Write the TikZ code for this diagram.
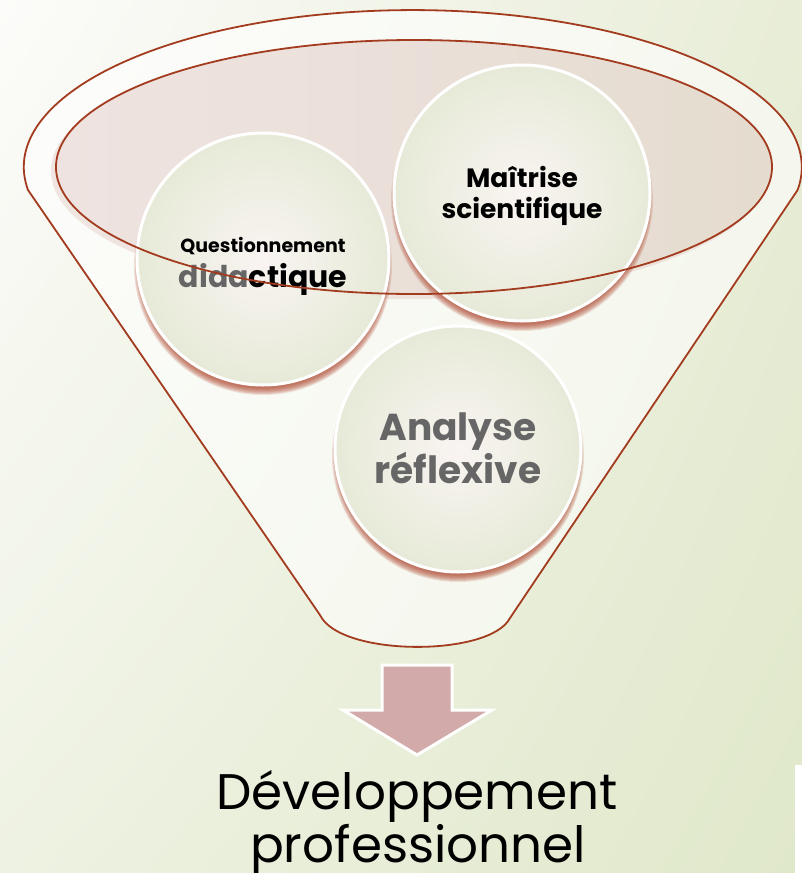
\documentclass[tikz,border=0pt]{standalone}
\usepackage{fontspec}
\setmainfont{Poppins}
\usetikzlibrary{shadings}
\definecolor{rust}{HTML}{A33B1F}
\definecolor{bgtl}{HTML}{FCFCFA}
\definecolor{bgtr}{HTML}{E8EDD7}
\definecolor{bgbl}{HTML}{EEF2E2}
\definecolor{bgbr}{HTML}{E0E8CA}
\definecolor{ellL}{HTML}{EFE3E1}
\definecolor{ellR}{HTML}{E5DCCF}
\definecolor{ellsh}{HTML}{E2C9C4}
\definecolor{cin}{HTML}{F9F4F2}
\definecolor{cout}{HTML}{E7EAD8}
\definecolor{csh}{HTML}{B04A33}
\definecolor{arrowc}{HTML}{D1AAA9}
\definecolor{greytext}{HTML}{666666}
\tikzset{
  bubble/.style={circle, draw=white, line width=3pt, inner sep=0pt,
    minimum size=#1, inner color=cin, outer color=cout, align=center},
  outline/.style={draw=rust, line width=1.8pt},
  labelfont/.style={font=\bfseries\fontsize{#1}{#1}\selectfont},
  resultfont/.style={font=\fontsize{50}{50}\selectfont}
}
\begin{document}
\begin{tikzpicture}[x=1pt,y=-1pt]
\useasboundingbox (0,0) rectangle (802,873);
% background
\shade[upper left=bgtl, upper right=bgtr, lower left=bgbl, lower right=bgbr] (0,0) rectangle (802,873);
\fill[white] (795,765) rectangle (802,873);
% funnel
\path[fill=white, fill opacity=0.6, outline]
  (28,190) arc[start angle=171.6, end angle=368.4, x radius=389, y radius=157]
  -- (510,618) .. controls (490,657) and (340,657) .. (320,615) -- cycle;
% inner ellipse shadow and fill
\fill[ellsh, opacity=0.45] (410,171) ellipse[x radius=359, y radius=128];
\shade[left color=ellL, right color=ellR] (414,167) ellipse[x radius=358, y radius=127];
% circle shadows
\foreach \cx/\cy/\r in {263/259/126, 522/193/128, 458/449/123}{
  \foreach \k in {0,...,8}{
    \fill[csh, opacity=0.16] (\cx,\cy+7) circle[radius=\r+3-\k];
  }
}
% bubbles
\node[bubble=252pt] (q) at (263,259) {};
\node[labelfont=19, anchor=base] (qt1) at (263,252) {Questionnement};
\node[labelfont=30, anchor=base] (qt2) at (263,287) {{\color{greytext}dida}ctique};
\node[bubble=256pt] (m) at (522,193) {};
\node[labelfont=26.5, anchor=base] (mt1) at (522,187) {Maîtrise};
\node[labelfont=26.5, anchor=base] (mt2) at (522,218) {scientifique};
\node[bubble=246pt] (a) at (458,449) {};
\node[labelfont=37.5, anchor=base, text=greytext] (at1) at (458,440) {Analyse};
\node[labelfont=37.5, anchor=base, text=greytext] (at2) at (458,483) {réflexive};
% inner ellipse outline on top
\draw[outline] (414,167) ellipse[x radius=358, y radius=127];
% arrow
\filldraw[fill=arrowc, draw=white, line width=3pt, line join=miter]
  (382,665) -- (452,665) -- (452,710) -- (492,710) -- (417,755)
  -- (343,710) -- (382,710) -- cycle;
% result text
\node[resultfont, anchor=base] (d1) at (417,809) {Développement};
\node[resultfont, anchor=base] (d2) at (418,862) {professionnel};
\end{tikzpicture}
\end{document}
